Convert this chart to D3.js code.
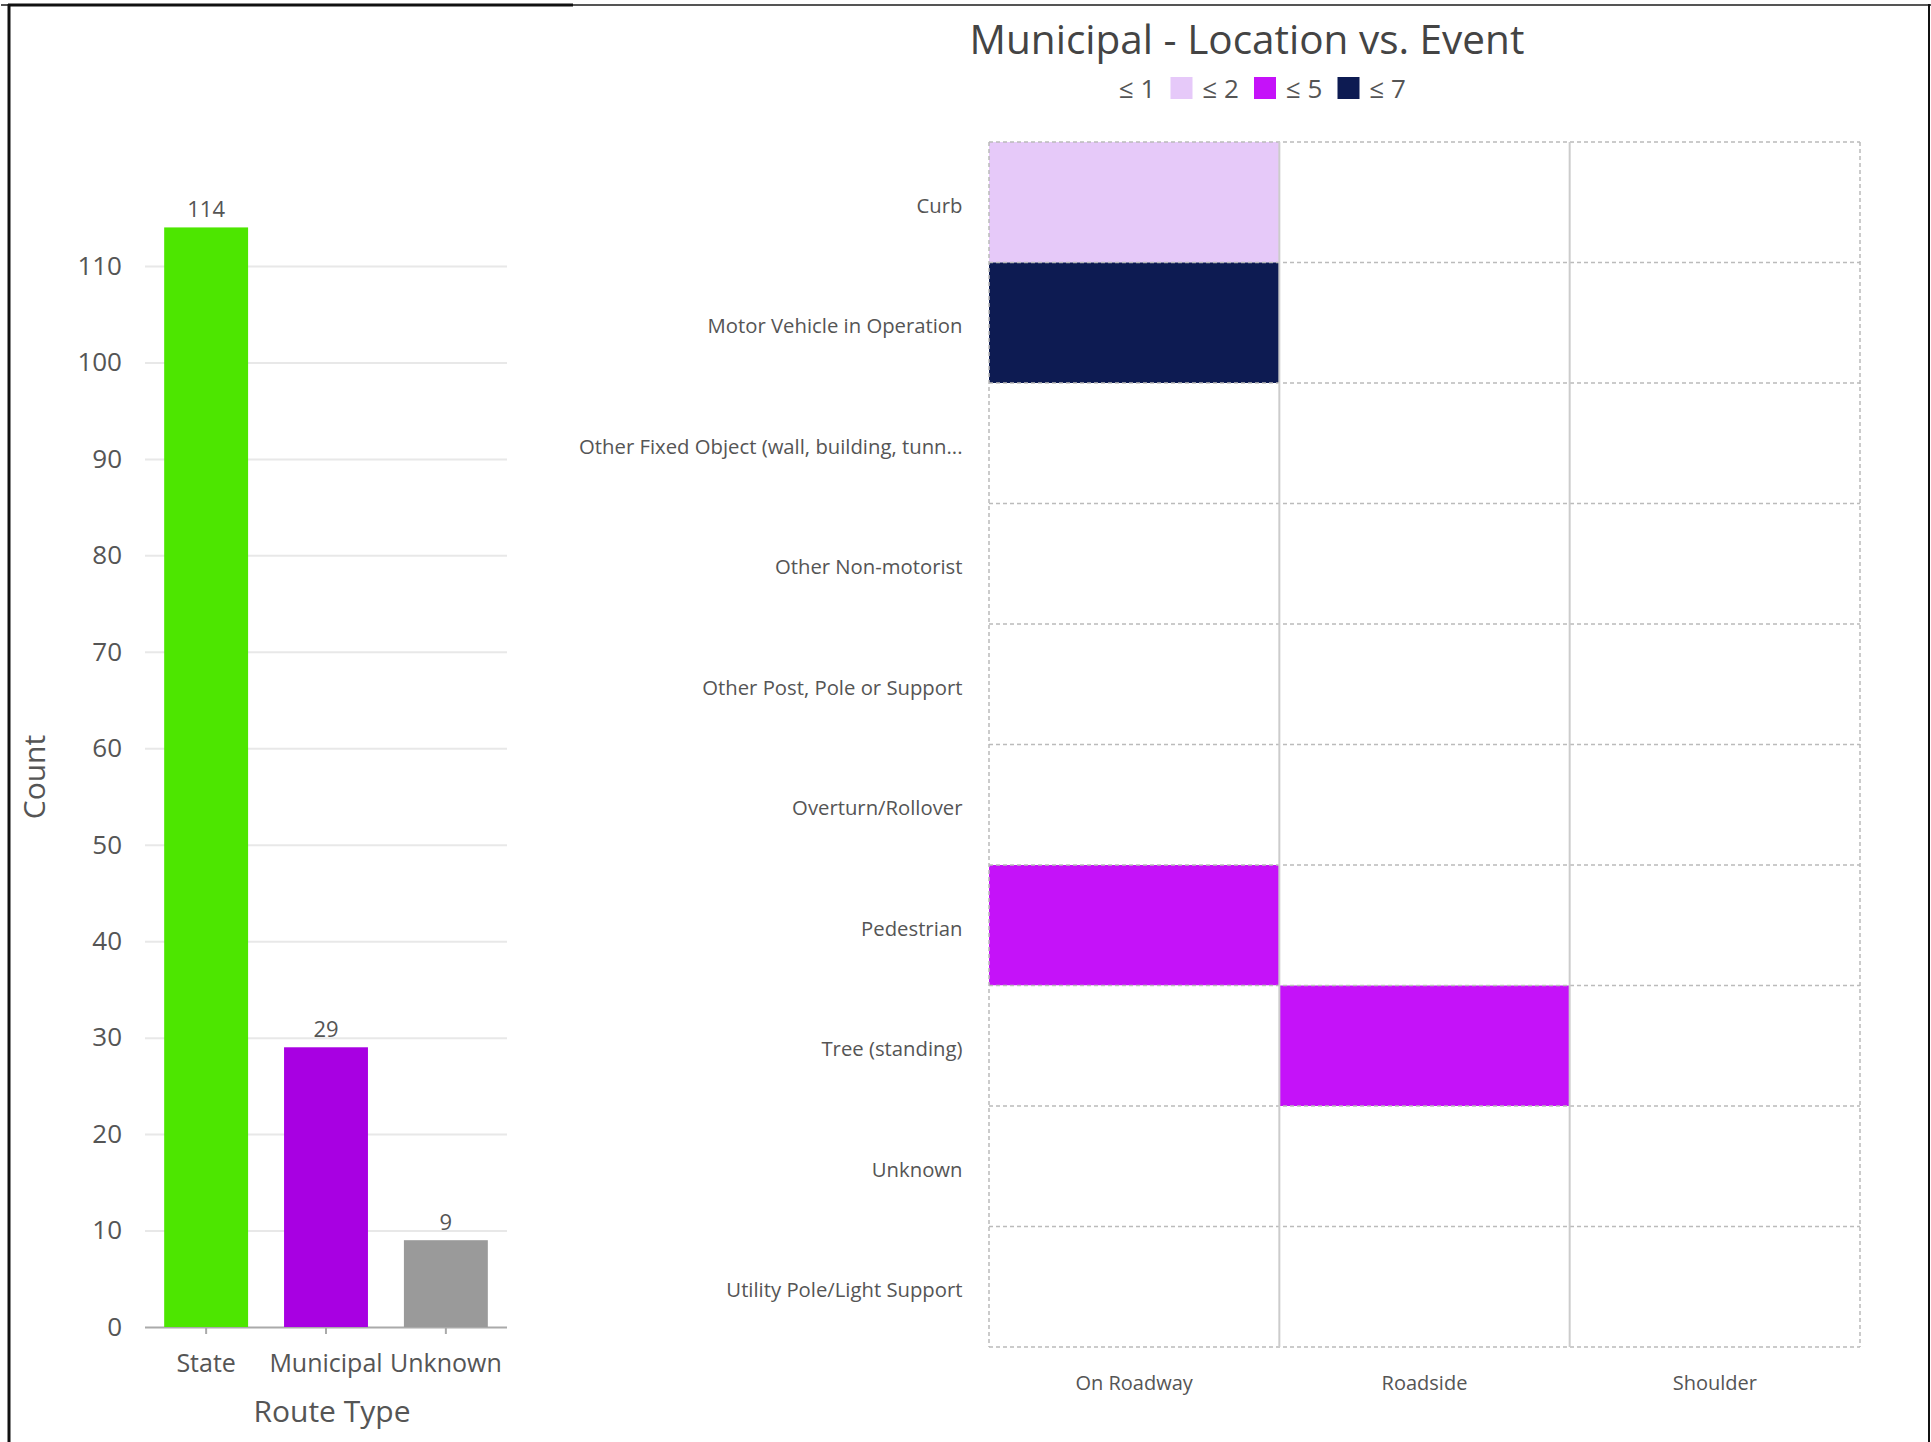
<!DOCTYPE html>
<html>
<head>
<meta charset="utf-8">
<script src="https://cdn.jsdelivr.net/npm/d3@7"></script>
<style>
  body { margin: 0; background: #fff; }
  text { font-family: "Segoe UI", "Open Sans", sans-serif; fill: #555; }
</style>
</head>
<body>
<svg id="chart" width="1931" height="1442"></svg>
<script>
// bar chart data
const routeTypes = ['State', 'Municipal', 'Unknown'];
const routeCounts = [114, 29, 9];
const routeColors = ['#4de600', '#a800e2', '#9a9a9a'];
const countTicks = [0, 10, 20, 30, 40, 50, 60, 70, 80, 90, 100, 110];

// heatmap data
const events = ['Curb', 'Motor Vehicle in Operation', 'Other Fixed Object (wall, building, tunn...',
  'Other Non-motorist', 'Other Post, Pole or Support', 'Overturn/Rollover', 'Pedestrian',
  'Tree (standing)', 'Unknown', 'Utility Pole/Light Support'];
const locations = ['On Roadway', 'Roadside', 'Shoulder'];
const onRoadway = [2, 7, 0, 0, 0, 0, 5, 0, 0, 0];
const roadside = [0, 0, 0, 0, 0, 0, 0, 4, 0, 0];
const shoulder = [0, 0, 0, 0, 0, 0, 0, 0, 0, 0];
const legendLabels = ['≤ 1', '≤ 2', '≤ 5', '≤ 7'];
const legendBreaks = [1.5, 2.5, 5.5];
const legendColors = ['#ffffff', '#e6c9f9', '#c512f9', '#0d1b52'];

const svg = d3.select('#chart');

// frame
svg.append('rect').attr('width', 1931).attr('height', 1442).attr('fill', '#fff');
svg.append('line').attr('x1', 1).attr('x2', 1931).attr('y1', 5).attr('y2', 5)
  .attr('stroke', '#555').attr('stroke-width', 2);
svg.append('line').attr('x1', 8).attr('x2', 573).attr('y1', 5).attr('y2', 5)
  .attr('stroke', '#111').attr('stroke-width', 3);
svg.append('line').attr('x1', 9).attr('x2', 9).attr('y1', 4).attr('y2', 1442)
  .attr('stroke', '#111').attr('stroke-width', 3);
svg.append('line').attr('x1', 1929).attr('x2', 1929).attr('y1', 4).attr('y2', 1442)
  .attr('stroke', '#111').attr('stroke-width', 2);

// ---- bar chart ----
const x = d3.scaleBand().domain(routeTypes).range([145, 507])
  .paddingInner(0.3).paddingOuter(0.16);
const y = d3.scaleLinear().domain([0, 110]).range([1327, 266]);

const yAxis = svg.append('g')
  .attr('transform', 'translate(145,0)')
  .call(d3.axisLeft(y).tickValues(countTicks).tickSize(-362).tickPadding(23));
yAxis.select('.domain').remove();
yAxis.selectAll('.tick line').attr('stroke', d => d === 0 ? '#aaa' : '#e8e8e8').attr('stroke-width', 2);
yAxis.selectAll('.tick text').attr('font-size', 26).attr('fill', '#555');

svg.selectAll('.bar')
  .data(routeTypes)
  .enter().append('rect')
    .attr('class', 'bar')
    .attr('x', d => x(d))
    .attr('width', x.bandwidth())
    .attr('y', (d, i) => y(routeCounts[i]))
    .attr('height', (d, i) => y(0) - y(routeCounts[i]))
    .attr('fill', (d, i) => routeColors[i]);

svg.selectAll('.bar-label')
  .data(routeTypes)
  .enter().append('text')
    .attr('class', 'bar-label')
    .attr('x', d => x(d) + x.bandwidth() / 2)
    .attr('y', (d, i) => y(routeCounts[i]) - 10)
    .attr('text-anchor', 'middle')
    .attr('font-size', 22)
    .text((d, i) => routeCounts[i]);

const xAxis = svg.append('g')
  .attr('transform', 'translate(0,1327)')
  .call(d3.axisBottom(x).tickSize(7));
xAxis.select('.domain').remove();
xAxis.selectAll('.tick line').attr('stroke', '#aaa').attr('stroke-width', 2);
xAxis.selectAll('.tick text').attr('font-size', 25).attr('dy', 0).attr('y', 45).attr('fill', '#555');

svg.append('text')
  .attr('transform', 'translate(45,777) rotate(-90)')
  .attr('text-anchor', 'middle')
  .attr('font-size', 30)
  .text('Count');

svg.append('text')
  .attr('x', 332).attr('y', 1422)
  .attr('text-anchor', 'middle')
  .attr('font-size', 30)
  .text('Route Type');

// ---- heatmap ----
const hx = d3.scaleBand().domain(locations).range([989, 1860]);
const hy = d3.scaleBand().domain(events).range([142, 1347]);
const color = d3.scaleThreshold().domain(legendBreaks).range(legendColors);
const columns = [onRoadway, roadside, shoulder];

const cells = [];
locations.forEach((loc, c) => {
  events.forEach((ev, r) => cells.push({ loc: loc, ev: ev, value: columns[c][r] }));
});

svg.append('g')
  .selectAll('rect')
  .data(cells)
  .enter().append('rect')
    .attr('x', d => hx(d.loc))
    .attr('y', d => hy(d.ev))
    .attr('width', hx.bandwidth())
    .attr('height', hy.bandwidth())
    .attr('fill', d => color(d.value));

// row separators (dashed)
svg.append('g')
  .selectAll('line')
  .data(events.concat(['__end']))
  .enter().append('line')
    .attr('x1', 989).attr('x2', 1860)
    .attr('y1', (d, i) => 142 + i * hy.bandwidth())
    .attr('y2', (d, i) => 142 + i * hy.bandwidth())
    .attr('stroke', '#bbb')
    .attr('stroke-width', 1.5)
    .attr('stroke-dasharray', '4,3');

// column separators
svg.append('g')
  .selectAll('line')
  .data(locations.slice(1))
  .enter().append('line')
    .attr('x1', d => hx(d)).attr('x2', d => hx(d))
    .attr('y1', 142).attr('y2', 1347)
    .attr('stroke', '#ccc')
    .attr('stroke-width', 2);

// outer left/right dashed edges
[989, 1860].forEach(xx => {
  svg.append('line')
    .attr('x1', xx).attr('x2', xx).attr('y1', 142).attr('y2', 1347)
    .attr('stroke', '#bbb').attr('stroke-width', 1.5).attr('stroke-dasharray', '4,3');
});

const hyAxis = svg.append('g')
  .attr('transform', 'translate(989,0)')
  .call(d3.axisLeft(hy).tickSize(0).tickPadding(26.5));
hyAxis.select('.domain').remove();
hyAxis.selectAll('.tick text').attr('font-size', 20.3).attr('dy', '0.52em').attr('fill', '#555');

const hxAxis = svg.append('g')
  .attr('transform', 'translate(0,1347)')
  .call(d3.axisBottom(hx).tickSize(0));
hxAxis.select('.domain').remove();
hxAxis.selectAll('.tick text').attr('font-size', 20).attr('dy', 0).attr('y', 43).attr('fill', '#555');

// title
svg.append('text')
  .attr('x', 1247).attr('y', 54)
  .attr('text-anchor', 'middle')
  .attr('font-size', 40.5)
  .style('fill', '#444')
  .text('Municipal - Location vs. Event');

// legend
const legend = svg.append('g')
  .selectAll('g')
  .data(legendLabels)
  .enter().append('g')
    .attr('transform', (d, i) => `translate(${1087 + i * 83.5},77)`);
legend.append('rect')
  .attr('width', 22).attr('height', 22)
  .attr('fill', (d, i) => legendColors[i]);
legend.append('text')
  .attr('x', 32).attr('y', 21)
  .attr('font-size', 26)
  .text(d => d);
</script>
</body>
</html>
